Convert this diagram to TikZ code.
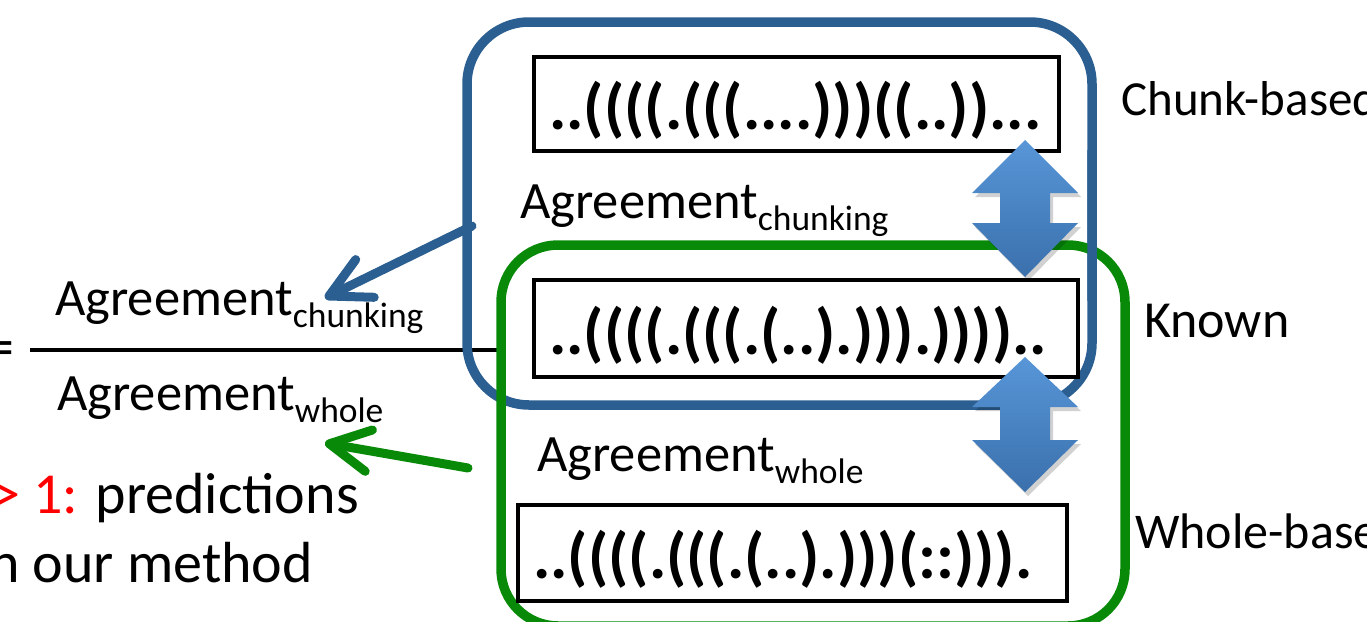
\documentclass[tikz,border=0pt]{standalone}
\usepackage{fontspec}
\setmainfont{Carlito}
\usetikzlibrary{arrows.meta}
\definecolor{chunkblue}{RGB}{43,94,145}
\definecolor{wholegreen}{RGB}{8,138,8}
\definecolor{dblTop}{RGB}{88,150,216}
\definecolor{dblBot}{RGB}{58,112,172}
\definecolor{ratiored}{RGB}{255,0,0}
% "Agreement" with a lowered, smaller qualifier
\newcommand\agr[1]{Agreement\raisebox{-12pt}{\fontsize{35.5}{36}\selectfont #1}}
% vertical two-headed block arrow: centre x, top tip, upper head base, lower head base, bottom tip
\newcommand\dblarrow[5]{%
  \fill[black, opacity=0.18] ({#1+3},{#2+4}) -- ({#1+56},{#3+4}) -- ({#1+28},{#3+4}) -- ({#1+28},{#4+4}) -- ({#1+56},{#4+4}) -- ({#1+3},{#5+4})
    -- ({#1-50},{#4+4}) -- ({#1-22},{#4+4}) -- ({#1-22},{#3+4}) -- ({#1-50},{#3+4}) -- cycle;
  \shade[top color=dblTop, bottom color=dblBot] (#1,#2) -- ({#1+53},#3) -- ({#1+25},#3) -- ({#1+25},#4) -- ({#1+53},#4) -- (#1,#5)
    -- ({#1-53},#4) -- ({#1-25},#4) -- ({#1-25},#3) -- ({#1-53},#3) -- cycle;}

\begin{document}
\begin{tikzpicture}[x=1pt,y=-1pt,
  lbl/.style={inner sep=0pt, anchor=base west, font=\fontsize{52.5}{60}\selectfont},
  side/.style={inner sep=0pt, anchor=base west, font=\fontsize{52}{60}\selectfont},
  body/.style={inner sep=0pt, anchor=base west, font=\fontsize{58}{66}\selectfont},
  struct/.style={inner sep=0pt, anchor=base west, font=\fontsize{65}{72}\selectfont\bfseries},
  seqbox/.style={draw=black, line width=4pt, inner sep=0pt, anchor=north west},
  chunkgrp/.style={draw=chunkblue, line width=9.5pt, rounded corners=62pt},
  wholegrp/.style={draw=wholegreen, line width=9.5pt, rounded corners=57pt},
  pointer/.style={line width=9pt, line cap=round, line join=round,
    -{Straight Barb[length=40pt, width=42pt, line cap=round, line join=round]}}
]
\useasboundingbox (0,0) rectangle (1367,621);
\clip (0,0) rectangle (1367,621);

% ratio fraction on the left
\coordinate (fracL) at (30,350);
\coordinate (fracR) at (500,350);
\draw[line width=4pt] (fracL) -- (fracR);
\node[body, anchor=base east] (eq) at (15,366) {=};
\node[lbl] (num) at (55,315) {\agr{chunking}};
\node[lbl] (den) at (57,410) {\agr{whole}};
\node[body] (ratio) at (-9,513) {{\color{ratiored}> 1:} predictions};
\node[body] (method) at (-11,582) {n our method};

% grouping frames
\draw[chunkgrp] (467,22) rectangle (1092,405);
\draw[wholegrp] (501,245) rectangle (1125,626);
\begin{scope}
  \clip (1070,150) rectangle (1110,300);
  \draw[chunkgrp] (467,22) rectangle (1092,405);
\end{scope}

% structure strings
\node[seqbox, minimum width=525pt, minimum height=94pt] (s1) at (532,55) {};
\node[struct] (t1) at (549,129) {..((((.(((....)))((..))...};
\node[seqbox, minimum width=544pt, minimum height=97pt] (s2) at (532,278) {};
\node[struct] (t2) at (549,354) {..((((.(((.(..).))).))))..};
\node[seqbox, minimum width=549pt, minimum height=96pt] (s3) at (516,503) {};
\node[struct] (t3) at (533,578) {..((((.(((.(..).)))(::))).};

% agreement labels inside the frames
\node[lbl] (ac) at (520,218) {\agr{chunking}};
\node[lbl] (aw) at (537,471) {\agr{whole}};

% method labels
\node[side, font=\fontsize{49}{60}\selectfont] (chunkname) at (1121,115) {Chunk-based};
\node[side] (knownname) at (1144,337) {Known};
\node[side, font=\fontsize{50}{60}\selectfont] (wholename) at (1135,548) {Whole-based};

% comparisons between neighbouring structures
\dblarrow{1025}{140}{193}{223}{277}
\dblarrow{1025}{357}{407}{440}{492}

% pointers from the frames to the fraction terms
\coordinate (blueTail) at (472,226);
\coordinate (blueTip) at (325,298);
\coordinate (greenTail) at (468,468);
\coordinate (greenTip) at (325,443);
\draw[pointer, draw=chunkblue] (blueTail) -- (blueTip);
\draw[pointer, draw=wholegreen] (greenTail) -- (greenTip);
\end{tikzpicture}
\end{document}
